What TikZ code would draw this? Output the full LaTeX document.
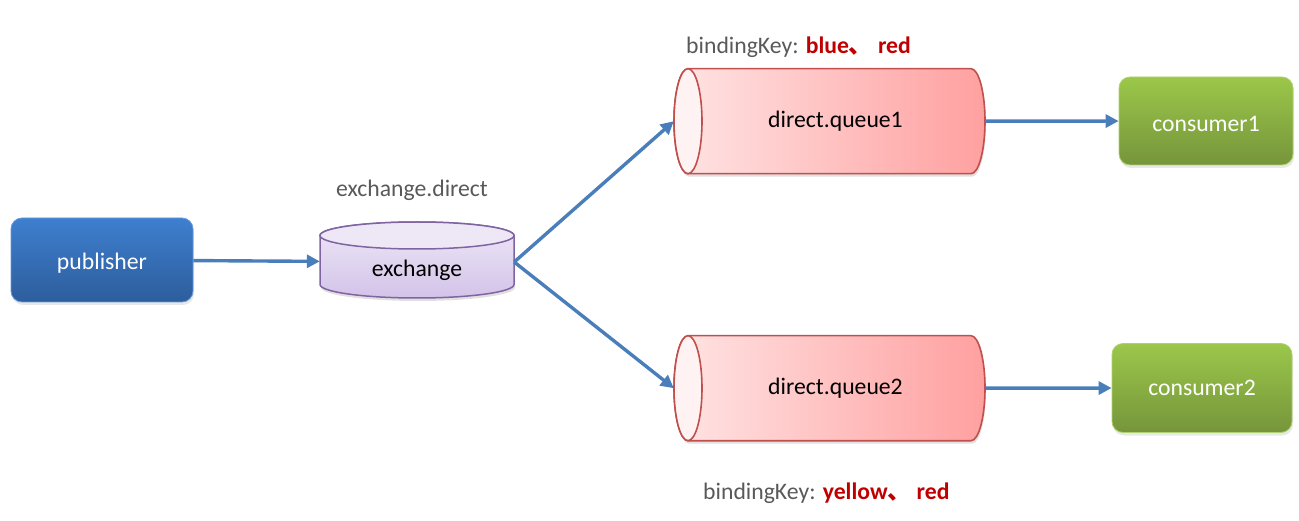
\documentclass[tikz,border=0pt]{standalone}
\usepackage{fontspec}
\setmainfont{Carlito}
\newfontfamily\cjk{Noto Sans CJK SC}
\usetikzlibrary{arrows.meta,shadows}

\definecolor{pubtop}{HTML}{3E7FCF}
\definecolor{pubbot}{HTML}{2D5D9C}
\definecolor{constop}{HTML}{9BC74A}
\definecolor{consbot}{HTML}{76953B}
\definecolor{qleft}{HTML}{FFE4E4}
\definecolor{qright}{HTML}{FFA0A0}
\definecolor{qend}{HTML}{FFF2F2}
\definecolor{qline}{HTML}{C0504D}
\definecolor{extop}{HTML}{EEE8F6}
\definecolor{exbot}{HTML}{D3C3E9}
\definecolor{exline}{HTML}{8064A2}
\definecolor{arrowblue}{HTML}{4A7EBB}
\definecolor{textgray}{HTML}{595959}
\definecolor{keyred}{HTML}{C00000}

\begin{document}
\begin{tikzpicture}[x=1pt, y=1pt,
    every node/.style={font=\fontsize{23.7}{28}\selectfont},
    flow/.style={draw=arrowblue, line width=3.4pt, -{Triangle[length=13pt,width=13pt]}},
    boxnode/.style={rounded corners=11pt, inner sep=0pt, text=white, line width=0.8pt,
        drop shadow={opacity=0.18, shadow xshift=1pt, shadow yshift=-3pt}},
    pubbox/.style={boxnode, top color=pubtop, bottom color=pubbot, draw=pubtop!80!white},
    consbox/.style={boxnode, top color=constop, bottom color=consbot, draw=constop!80!white},
    slot/.style={inner sep=0pt, text=black},
    shadowed/.style={preaction={fill=black, opacity=0.12, transform canvas={xshift=1pt, yshift=-3pt}}},
    note/.style={text=textgray, inner sep=0pt}]

    \useasboundingbox (0,0) rectangle (1299,-521);

    \def\rx{14}
    \def\ry{52.5}

    % queues, open end on the left
    \foreach \qy in {-121.2,-388.2} {
        \shade[shadowed, left color=qleft, right color=qright, draw=qline, line width=1.6pt]
            (688,\qy+\ry) -- (971,\qy+\ry) arc[start angle=90, end angle=-90, x radius=\rx, y radius=\ry]
            -- (688,\qy-\ry) arc[start angle=270, end angle=90, x radius=\rx, y radius=\ry] -- cycle;
        \filldraw[fill=qend, draw=qline, line width=1.6pt] (688,\qy) ellipse[x radius=\rx, y radius=\ry];
    }

    % exchange drum
    \shade[shadowed, top color=extop, bottom color=exbot, draw=exline, line width=1.5pt]
        (320,-235.5) -- (320,-284.5) arc[start angle=180, end angle=360, x radius=97, y radius=13.5]
        -- (514,-235.5) arc[start angle=0, end angle=180, x radius=97, y radius=13.5] -- cycle;
    \filldraw[fill=extop, draw=exline, line width=1.5pt] (417,-235.5) ellipse[x radius=97, y radius=13.5];

    \node[pubbox, minimum width=182pt, minimum height=84pt] (pub) at (102,-260) {\raisebox{-3pt}[\height][\depth]{publisher}};
    \node[slot, minimum width=194pt, minimum height=76pt] (ex) at (417,-262) {\raisebox{-8pt}[\height][\depth]{exchange}};
    \node[slot, minimum width=311pt, minimum height=105pt] (q1) at (829.5,-121.2) {\hspace*{12pt}direct.queue1};
    \node[slot, minimum width=311pt, minimum height=105pt] (q2) at (829.5,-388.2) {\hspace*{12pt}direct.queue2};
    \node[consbox, minimum width=174pt, minimum height=88pt] (c1) at (1206,-121) {\raisebox{-3pt}[\height][\depth]{consumer1}};
    \node[consbox, minimum width=180pt, minimum height=89pt] (c2) at (1202,-388) {consumer2};

    \node[note] (exname) at (412,-190) {exchange.direct};
    \node[note, anchor=base west] (key1) at (686,-54)
        {bindingKey: \textcolor{keyred}{\bfseries blue{\cjk 、} red}};
    \node[note, anchor=base west] (key2) at (703,-499)
        {bindingKey: \textcolor{keyred}{\bfseries yellow{\cjk 、} red}};

    \draw[flow] (pub) -- (ex);
    \draw[flow] (ex.east) -- (q1.west);
    \draw[flow] (ex.east) -- (q2.west);
    \draw[flow] (q1) -- (c1);
    \draw[flow] (q2) -- (c2);
\end{tikzpicture}
\end{document}
